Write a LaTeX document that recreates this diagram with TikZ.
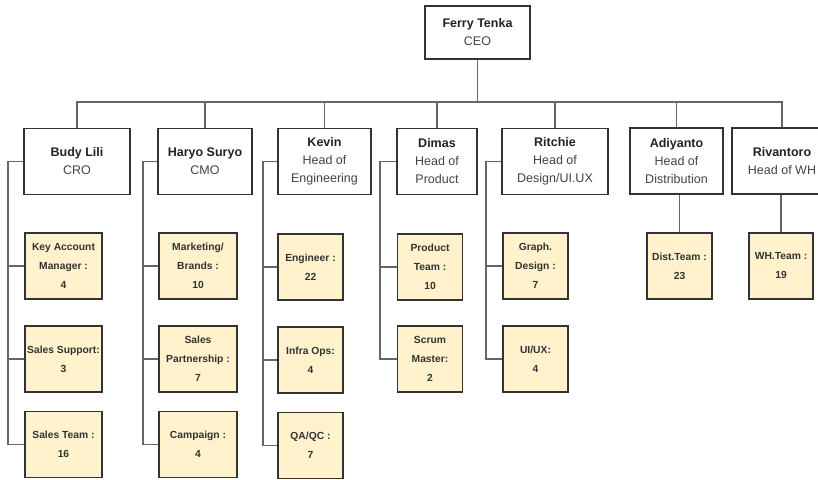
\documentclass[tikz,border=0pt]{standalone}
\usepackage{fontspec}
\setmainfont{Liberation Sans}
\definecolor{boxline}{HTML}{333333}
\definecolor{wire}{HTML}{666666}
\definecolor{teamfill}{HTML}{FFF2CC}
\definecolor{nametext}{HTML}{222222}
\definecolor{roletext}{HTML}{444444}
\definecolor{teamtext}{HTML}{333333}
\begin{document}
\begin{tikzpicture}[x=1pt,y=-1pt,
  headbox/.style={draw=boxline, line width=1.4pt, fill=white, inner sep=0pt,
    minimum height=66pt, align=center, text=roletext,
    font=\fontsize{12.5}{18}\selectfont},
  teambox/.style={draw=boxline, line width=1.4pt, fill=teamfill, inner sep=0pt,
    minimum height=66pt, align=center, text=teamtext,
    font=\fontsize{10.3}{19}\selectfont\bfseries},
  wireline/.style={draw=wire, line width=1.8pt}]
\useasboundingbox (0,0) rectangle (818,479);
\clip (0,0) rectangle (818,479);
\fill[white] (0,0) rectangle (818,479);

% CEO
\node[headbox, minimum width=105pt, minimum height=53pt] (ceo) at (477.5,32.5)
  {\textcolor{nametext}{\bfseries Ferry Tenka}\\CEO};

% Heads
\node[headbox, minimum width=106pt] (budy) at (77,161.5) {\textcolor{nametext}{\bfseries Budy Lili}\\CRO};
\node[headbox, minimum width=94pt] (haryo) at (205,161.5) {\textcolor{nametext}{\bfseries Haryo Suryo}\\CMO};
\node[headbox, minimum width=93pt] (kevin) at (324.5,161.5) {\textcolor{nametext}{\bfseries Kevin}\\Head of\\Engineering};
\node[headbox, minimum width=80pt] (dimas) at (437,161.5) {\textcolor{nametext}{\bfseries Dimas}\\Head of\\Product};
\node[headbox, minimum width=106pt] (ritchie) at (555,161.5) {\textcolor{nametext}{\bfseries Ritchie}\\Head of\\Design/UI.UX};
\node[headbox, minimum width=93pt] (adi) at (676.5,161) {\textcolor{nametext}{\bfseries Adiyanto}\\Head of\\Distribution};
\node[headbox, minimum width=100pt] (riv) at (782,161) {\textcolor{nametext}{\bfseries Rivantoro}\\Head of WH};

% Teams
\node[teambox, minimum width=77pt] (kam) at (63.5,266) {Key Account\\Manager :\\4};
\node[teambox, minimum width=77pt] (ss) at (63.5,359) {Sales Support:\\3};
\node[teambox, minimum width=77pt] (st) at (63.5,444.5) {Sales Team :\\16};

\node[teambox, minimum width=78pt] (mb) at (198,266) {Marketing/\\Brands :\\10};
\node[teambox, minimum width=78pt] (sp) at (198,359) {Sales\\Partnership :\\7};
\node[teambox, minimum width=78pt] (camp) at (198,444.5) {Campaign :\\4};

\node[teambox, minimum width=65pt] (eng) at (310.5,267) {Engineer :\\22};
\node[teambox, minimum width=65pt] (infra) at (310.5,360) {Infra Ops:\\4};
\node[teambox, minimum width=65pt] (qa) at (310.5,445.5) {QA/QC :\\7};

\node[teambox, minimum width=65pt] (pt) at (430,267) {Product\\Team :\\10};
\node[teambox, minimum width=65pt] (sm) at (430,359) {Scrum\\Master:\\2};

\node[teambox, minimum width=65pt] (gd) at (535.5,266) {Graph.\\Design :\\7};
\node[teambox, minimum width=65pt] (uiux) at (535.5,359) {UI/UX:\\4};

\node[teambox, minimum width=65pt] (dist) at (679.5,266) {Dist.Team :\\23};
\node[teambox, minimum width=64pt] (wh) at (781,266) {WH.Team :\\19};

% Top bus
\coordinate (busy) at (0,102);
\draw[wireline] (ceo.south) -- (ceo.south |- busy);
\draw[wireline] (budy.north) -- (budy.north |- busy) -- (riv.north |- busy) -- (riv.north);
\foreach \h in {haryo,kevin,dimas,ritchie,adi}
  \draw[wireline] (\h.north) -- (\h.north |- busy);

% Brackets
\coordinate (budyb) at (8,161.5);
\coordinate (haryob) at (143,161.5);
\coordinate (kevinb) at (263,161.5);
\coordinate (dimasb) at (380,161.5);
\coordinate (ritchieb) at (486,161.5);

\draw[wireline] (budy.west) -- (budyb) |- (st.west);
\draw[wireline] (budyb |- kam.west) -- (kam.west);
\draw[wireline] (budyb |- ss.west) -- (ss.west);

\draw[wireline] (haryo.west) -- (haryob) |- (camp.west);
\draw[wireline] (haryob |- mb.west) -- (mb.west);
\draw[wireline] (haryob |- sp.west) -- (sp.west);

\draw[wireline] (kevin.west) -- (kevinb) |- (qa.west);
\draw[wireline] (kevinb |- eng.west) -- (eng.west);
\draw[wireline] (kevinb |- infra.west) -- (infra.west);

\draw[wireline] (dimas.west) -- (dimasb) |- (sm.west);
\draw[wireline] (dimasb |- pt.west) -- (pt.west);

\draw[wireline] (ritchie.west) -- (ritchieb) |- (uiux.west);
\draw[wireline] (ritchieb |- gd.west) -- (gd.west);

\draw[wireline] (adi.south -| dist.north) -- (dist.north);
\draw[wireline] (riv.south -| wh.north) -- (wh.north);
\end{tikzpicture}
\end{document}
